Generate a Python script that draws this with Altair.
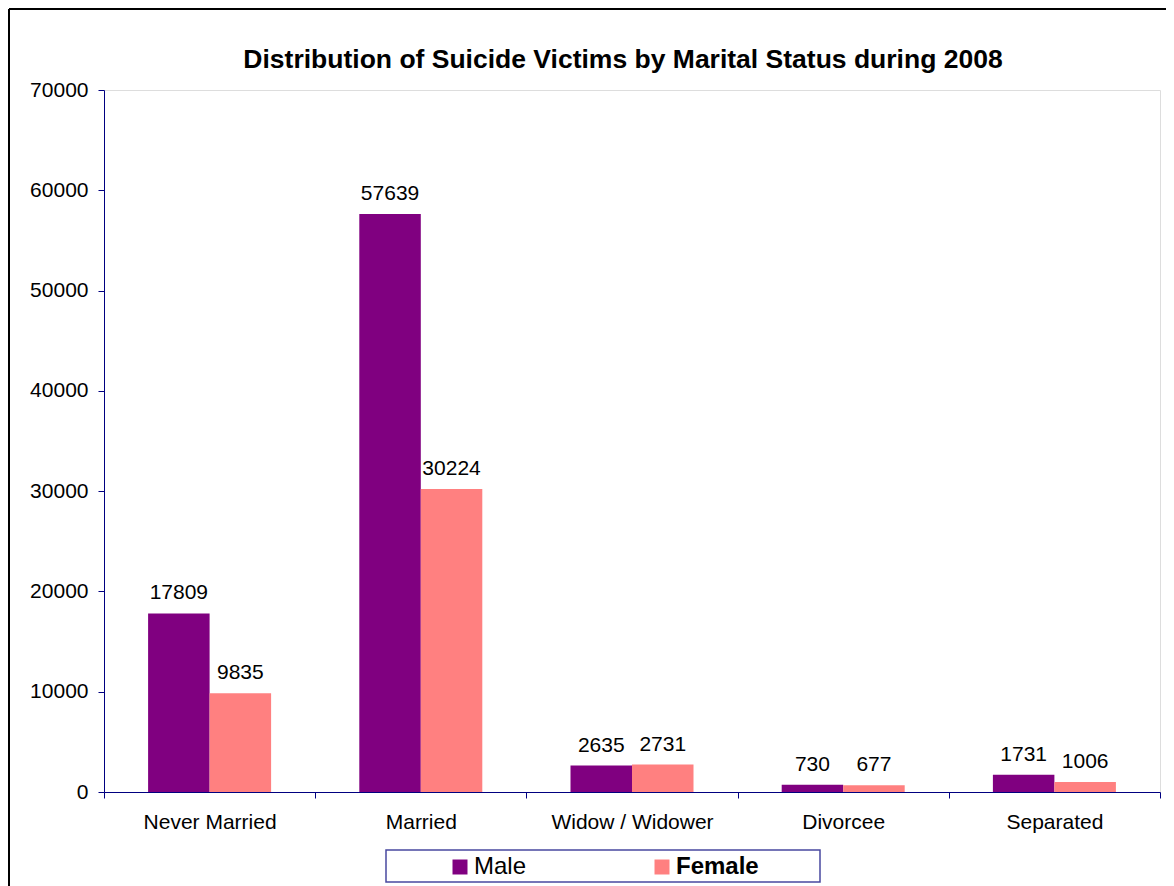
import altair as alt
import pandas as pd

categories = ["Never Married", "Married", "Widow / Widower", "Divorcee", "Separated"]
male = [17809, 57639, 2635, 730, 1731]
female = [9835, 30224, 2731, 677, 1006]
genders = ["Male", "Female"]
y_ticks = [0, 10000, 20000, 30000, 40000, 50000, 60000, 70000]

rows = []
for c, m, f in zip(categories, male, female):
    rows.append({"status": c, "gender": "Male", "value": m})
    rows.append({"status": c, "gender": "Female", "value": f})
df = pd.DataFrame(rows)

FONT = "Liberation Sans"
NAVY = "#000080"
W, H = 1056, 702

x = alt.X("status:N", sort=categories,
          scale=alt.Scale(paddingInner=0, paddingOuter=0),
          axis=alt.Axis(title=None, labelAngle=0, tickBand="extent", tickSize=6,
                        domainColor=NAVY, tickColor=NAVY, labelColor="black",
                        labelFont=FONT, labelFontSize=21, labelPadding=13, grid=False))
xo = alt.XOffset("gender:N", sort=genders,
                 scale=alt.Scale(paddingInner=0, paddingOuter=0.717))
y = alt.Y("value:Q", scale=alt.Scale(domain=[0, 70000], nice=False),
          axis=alt.Axis(title=None, values=y_ticks, format="d", tickSize=6,
                        domainColor=NAVY, tickColor=NAVY, labelColor="black",
                        labelFont=FONT, labelFontSize=21, labelPadding=10, grid=False))

frame_data = alt.Data(values=[{"k": 1}])

frame_left = alt.Chart(frame_data).mark_rule(color="black", strokeWidth=2).encode(
    x=alt.value(-95), y=alt.value(-81), y2=alt.value(810))
frame_top = alt.Chart(frame_data).mark_rule(color="black", strokeWidth=2).encode(
    x=alt.value(-95), x2=alt.value(1080), y=alt.value(-81))
legend_box = alt.Chart(frame_data).mark_rect(fill="white", stroke="#4848A0", strokeWidth=1.5).encode(
    x=alt.value(282), x2=alt.value(716), y=alt.value(760), y2=alt.value(792))

bars = alt.Chart(df).mark_bar().encode(
    x=x, xOffset=xo, y=y,
    color=alt.Color("gender:N", sort=genders,
                    scale=alt.Scale(domain=genders, range=["#800080", "#FF8080"]),
                    legend=alt.Legend(orient="none", legendX=344, legendY=765,
                                      direction="horizontal", title=None,
                                      symbolType="square", symbolSize=225,
                                      symbolStrokeWidth=0, symbolOpacity=1,
                                      labelFont=FONT, labelFontSize=24,
                                      labelColor="black", labelOffset=2,
                                      labelFontWeight=alt.ExprRef("datum.label === 'Female' ? 'bold' : 'normal'"),
                                      columnPadding=123, padding=0))
)

labels = alt.Chart(df).mark_text(font=FONT, fontSize=21, color="black", dy=-14,
                                 baseline="alphabetic").encode(
    x=x, xOffset=xo, y=y, text=alt.Text("value:Q", format="d"))

chart = alt.layer(frame_left, frame_top, legend_box, bars, labels).properties(
    width=W, height=H,
    title=alt.TitleParams("Distribution of Suicide Victims by Marital Status during 2008",
                          font=FONT, fontSize=26.5, fontWeight="bold", color="black",
                          anchor="middle", frame="group", dx=-9, offset=-65),
    autosize=alt.AutoSizeParams(type="none"),
    padding={"left": 96, "top": 82, "right": 6, "bottom": 96},
).configure_view(stroke="#808080", strokeWidth=2).configure(background="white")

chart.save("out.html", embed_options={"renderer": "svg", "actions": False})
